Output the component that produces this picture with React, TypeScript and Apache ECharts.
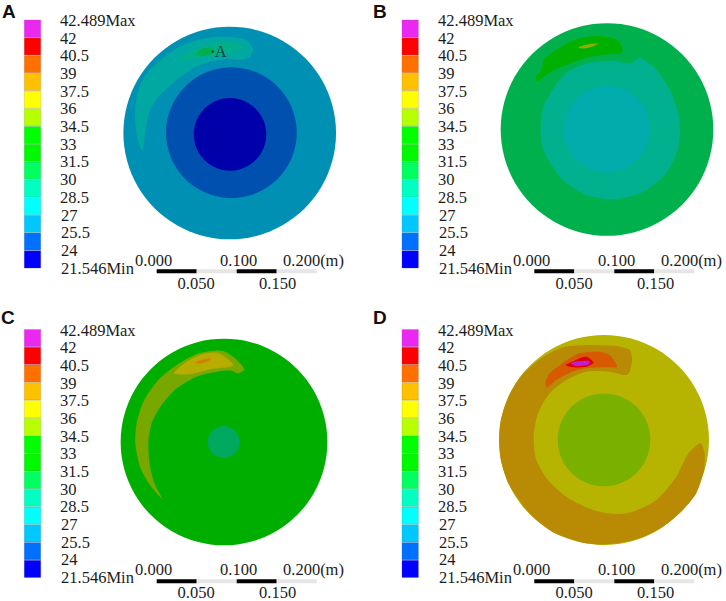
import React, { useEffect, useRef } from 'react';
import * as echarts from 'echarts';

type Pt = [number, number];
type Region =
  | { fill: string; center: Pt; radius: number }
  | { fill: string; outline: Pt[] };

// legend, top cell first
const LEGEND_COLORS = ['#ea28f0', '#ff0000', '#ff7000', '#ffc000', '#ffff00', '#b8ff00', '#00ff00', '#00f800', '#00ff60', '#00ffc0', '#00ffff', '#00c8ff', '#0070ff', '#0000ff'];
const LEGEND_LABELS = ['42.489Max', '42', '40.5', '39', '37.5', '36', '34.5', '33', '31.5', '30', '28.5', '27', '25.5', '24', '21.546Min'];
const LEGEND_LABEL_Y = [20.5, 38.2, 55.9, 73.5, 91.2, 108.9, 126.6, 144.3, 161.9, 179.6, 197.3, 215, 232.7, 250.3, 268];
const LEGEND_LABEL_X = [60, 60, 60, 60, 60, 60, 60, 60, 60, 60, 60, 61, 61, 61, 61];

// scale bar, metres
const SCALE_SEGMENTS = [0.05, 0.05, 0.05, 0.05];
const SCALE_COLORS = ['#000000', '#e6e6e6', '#000000', '#e6e6e6'];
const SCALE_LABELS = ['0.000', '0.100', '0.200(m)', '0.050', '0.150'];
const SCALE_LABEL_X = [135, 220, 283, 177.5, 259];
const SCALE_LABEL_Y = [260, 260, 260, 283, 283];

// contours, mm from the disk centre
const PANEL_A: Region[] = [
  { fill: '#0090b4', center: [0, 0], radius: 132.9 },
  { fill: '#00a8a2', outline: [[-110, -22], [-115.4, -6.7], [-118.3, 20.4], [-116.3, 45.4], [-107.9, 68.3], [-91.3, 87.1], [-66.3, 105.8], [-41.3, 116.3], [-16.3, 120.4], [12.9, 118.3], [23.3, 114.2], [29.6, 103.8], [25.4, 95.4], [17.1, 91.3], [-3.8, 92.5], [-24.6, 89.2], [-45.4, 80.8], [-68.3, 64.2], [-87.1, 47.5], [-99.6, 28.8], [-104.6, 7.9], [-107.9, -17.1]] },
  { fill: '#00b08c', outline: [[-64.2, 89.2], [-49.6, 101.7], [-28.8, 110], [-3.8, 114.2], [12.9, 110], [17.1, 105.8], [4.6, 101.7], [-16.3, 97.5], [-37.1, 95.4], [-53.8, 91.3]] },
  { fill: '#00ae50', outline: [[-43.3, 97.5], [-35, 105], [-24.6, 107.1], [-18.3, 101.7], [-28.8, 96.7]] },
  { fill: '#0050b0', center: [2.1, 0.4], radius: 81.7 },
  { fill: '#0000aa', center: [0.4, -1.7], radius: 45.4 },
];
const PANEL_B: Region[] = [
  { fill: '#00b04c', center: [0, 0], radius: 132.9 },
  { fill: '#00b08e', outline: [[-82.9, 3.3], [-79.6, 28.3], [-67.1, 51.3], [-49.6, 72.1], [-25.4, 82.5], [7.9, 85.8], [28.8, 82.5], [41.3, 89.6], [62.1, 74.2], [78.8, 49.2], [89.2, 20], [91.3, -0.8], [87.1, -30], [70.4, -59.2], [41.3, -80], [7.9, -87.1], [-25.4, -82.1], [-54.6, -63.3], [-73.3, -38.3], [-81.7, -17.5]] },
  { fill: '#00acac', center: [0, 0.6], radius: 54 },
  { fill: '#00b000', outline: [[-89.2, 65.8], [-81.7, 74.2], [-79.6, 86.7], [-67.1, 97.1], [-46.2, 109.6], [-25.4, 115.8], [-4.6, 116.7], [12.1, 112.5], [19.6, 101.2], [16.2, 95], [1.7, 94.2], [-21.1, 90.8], [-46.2, 82.5], [-67.1, 74.2], [-81.7, 63.8], [-87.5, 59.6]] },
  { fill: '#8cb000', outline: [[-35.8, 102.5], [-25.4, 106.2], [-10.8, 107.5], [-17.1, 104.2], [-29.6, 101.2]] },
];
const PANEL_C: Region[] = [
  { fill: '#00ae00', center: [0, 0], radius: 129.2 },
  { fill: '#00a860', center: [-0.4, 0], radius: 20 },
  { fill: '#78a800', outline: [[-77.1, -71.2], [-92.5, -53.8], [-105, -30.8], [-110.8, -1.7], [-109.2, 23.3], [-100.8, 50.4], [-82.1, 77.5], [-59.2, 96.2], [-34.2, 110], [-13.3, 114.2], [1.2, 112.9], [13.8, 104.6], [25.4, 90.8], [17.9, 85.8], [9.6, 89.2], [-9.2, 87.9], [-34.2, 81.7], [-59.2, 67.1], [-77.9, 46.2], [-90.4, 23.3], [-94.6, -1.7], [-92.5, -30.8], [-86.2, -53.8]] },
  { fill: '#b8ac00', outline: [[-62.5, 85.8], [-46.7, 100.4], [-25.8, 110], [-7.1, 111.2], [11.7, 95.8], [-17.5, 90.8], [-42.5, 84.6]] },
  { fill: '#d08000', outline: [[-36.2, 99.2], [-25.8, 103.3], [-16.7, 104.6], [-19.6, 101.2], [-30, 97.9]] },
];
const PANEL_D: Region[] = [
  { fill: '#b6b400', center: [0, 0], radius: 131.2 },
  { fill: '#b98a04', outline: [[32.1, 85.4], [27.9, 81.2], [7.1, 85.4], [-22.1, 85.4], [-47.1, 75], [-67.9, 58.3], [-82.5, 33.3], [-87.9, 4.2], [-84.6, -25], [-70, -50], [-47.1, -70.8], [-13.8, -87.5], [15.4, -92.5], [36.2, -89.6], [65.4, -75], [90.4, -45.8], [105, -17.5], [120.4, -4.2], [125.8, -16.7], [125, -37.5], [115.4, -66.7], [98.8, -87.5], [73.8, -108.3], [44.6, -122.9], [15.4, -129.5], [-5.4, -130.5], [-27, -128], [-63, -116], [-93, -92], [-118.5, -56.4], [-128.8, -25.5], [-131, 0], [-129, 25], [-119, 55], [-103, 80.5], [-78.3, 102.1], [-51.2, 115.8], [-22.1, 118.8], [15.4, 117.5], [32.1, 112.5], [35, 100]] },
  { fill: '#7ab000', center: [0, 0.2], radius: 58 },
  { fill: '#d85a00', outline: [[-72.9, 72.9], [-67.9, 83.3], [-49.2, 97.9], [-30.4, 108.3], [-7.5, 110.4], [7.1, 106.2], [16.2, 91.7], [-1.2, 90.8], [-22.1, 89.6], [-42.9, 84.2], [-59.6, 75], [-71.2, 65.8]] },
  { fill: '#e0000c', outline: [[-47.9, 93.8], [-36.7, 99.2], [-22.1, 104.2], [-12.9, 96.7], [-22.1, 91.7], [-38.8, 90.8]] },
  { fill: '#b822d0', outline: [[-41.7, 95.8], [-32.1, 98.3], [-18.3, 98.8], [-19.1, 94.6], [-34.2, 92.5]] },
];
const PROBE_POINT: Pt = [-21.3, 101.7];

const PANELS = [
  { letter: 'A', regions: PANEL_A, cx: 229.7, cy: 133, dx: 0, dy: 0, letterX: 2, letterY: 11 },
  { letter: 'B', regions: PANEL_B, cx: 607, cy: 129.5, dx: 378, dy: 0, letterX: 373, letterY: 11 },
  { letter: 'C', regions: PANEL_C, cx: 224, cy: 442, dx: 0, dy: 309.5, letterX: 1, letterY: 317 },
  { letter: 'D', regions: PANEL_D, cx: 604, cy: 440, dx: 378, dy: 309.5, letterX: 373, letterY: 317 },
];

const DISK_HALF_MM = 140;
const DISK_HALF_PX = 112; // 0.2 m spans 160 px on the scale bar
const SERIF = '"Liberation Serif", "Times New Roman", serif';
const TEXT_COLOR = '#1c1c1c';

const renderRegion = (regions: Region[]) => (params: any, api: any) => {
  const r = regions[params.dataIndex];
  if ('outline' in r) {
    return {
      type: 'polygon',
      shape: { points: r.outline.map((p) => api.coord(p)), smooth: 0.25 },
      style: { fill: r.fill },
    };
  }
  const c = api.coord(r.center);
  return {
    type: 'circle',
    shape: { cx: c[0], cy: c[1], r: api.size([r.radius, 0])[0] },
    style: { fill: r.fill },
  };
};

function buildOption() {
  const grid: any[] = [];
  const xAxis: any[] = [];
  const yAxis: any[] = [];
  const series: any[] = [];
  const graphic: any[] = [];

  const text = (t: string, x: number, y: number, font = `16.5px ${SERIF}`, fill = TEXT_COLOR) => ({
    type: 'text',
    x,
    y,
    silent: true,
    style: { text: t, font, fill, align: 'left', verticalAlign: 'middle', textAlign: 'left', textVerticalAlign: 'middle' },
  });

  PANELS.forEach((panel) => {
    // disk
    let idx = grid.length;
    grid.push({ left: panel.cx - DISK_HALF_PX, top: panel.cy - DISK_HALF_PX, width: DISK_HALF_PX * 2, height: DISK_HALF_PX * 2 });
    xAxis.push({ type: 'value', gridIndex: idx, min: -DISK_HALF_MM, max: DISK_HALF_MM, show: false });
    yAxis.push({ type: 'value', gridIndex: idx, min: -DISK_HALF_MM, max: DISK_HALF_MM, show: false });
    series.push({
      type: 'custom',
      xAxisIndex: idx,
      yAxisIndex: idx,
      clip: false,
      silent: true,
      data: panel.regions.map((_, i) => i),
      renderItem: renderRegion(panel.regions),
    });
    if (panel.letter === 'A') {
      series.push({
        type: 'scatter',
        xAxisIndex: idx,
        yAxisIndex: idx,
        symbolSize: 2,
        itemStyle: { color: '#1c1c1c' },
        silent: true,
        data: [PROBE_POINT],
        label: { show: true, position: 'right', distance: 1, formatter: 'A', fontFamily: SERIF, fontSize: 16.5, color: TEXT_COLOR },
      });
    }

    // colour legend
    idx = grid.length;
    grid.push({ left: 24 + panel.dx - (panel.dx ? 0.3 : 0), top: 19.7 + panel.dy, width: 17, height: 248.6 });
    xAxis.push({ type: 'value', gridIndex: idx, min: 0, max: 1, show: false });
    yAxis.push({ type: 'category', gridIndex: idx, inverse: true, show: false, data: LEGEND_COLORS.map((_, i) => i) });
    series.push({
      type: 'bar',
      xAxisIndex: idx,
      yAxisIndex: idx,
      barWidth: '100%',
      silent: true,
      data: LEGEND_COLORS.map((c) => ({ value: 1, itemStyle: { color: c, borderColor: 'rgba(90,90,90,0.35)', borderWidth: 0.5 } })),
    });
    LEGEND_LABELS.forEach((l, i) => {
      graphic.push(text(l, LEGEND_LABEL_X[i] + panel.dx, LEGEND_LABEL_Y[i] + panel.dy));
    });

    // scale bar
    idx = grid.length;
    grid.push({ left: 156.7 + panel.dx - (panel.dx ? 0.4 : 0), top: 269.3 + (panel.dy ? 310 : 0), width: 160, height: 4 });
    xAxis.push({ type: 'value', gridIndex: idx, min: 0, max: 0.2, show: false });
    yAxis.push({ type: 'category', gridIndex: idx, show: false, data: ['scale'] });
    SCALE_SEGMENTS.forEach((seg, i) => {
      series.push({
        type: 'bar',
        xAxisIndex: idx,
        yAxisIndex: idx,
        stack: `scale${panel.letter}`,
        barWidth: '100%',
        silent: true,
        itemStyle: { color: SCALE_COLORS[i] },
        data: [seg],
      });
    });
    SCALE_LABELS.forEach((l, i) => {
      graphic.push(text(l, SCALE_LABEL_X[i] + panel.dx, SCALE_LABEL_Y[i] + (panel.dy ? 309.5 : 0)));
    });

    graphic.push(text(panel.letter, panel.letterX, panel.letterY, 'bold 19px "Liberation Sans", Arial, sans-serif', '#111111'));
  });

  return { animation: false, backgroundColor: '#ffffff', grid, xAxis, yAxis, series, graphic };
}

export default function App() {
  const containerRef = useRef<HTMLDivElement>(null);

  useEffect(() => {
    if (!containerRef.current) return;
    const chart = echarts.init(containerRef.current, undefined, { renderer: 'svg' });
    chart.setOption(buildOption());
    return () => chart.dispose();
  }, []);

  return <div ref={containerRef} style={{ position: 'fixed', left: 0, top: 0, width: 726, height: 601 }} />;
}
